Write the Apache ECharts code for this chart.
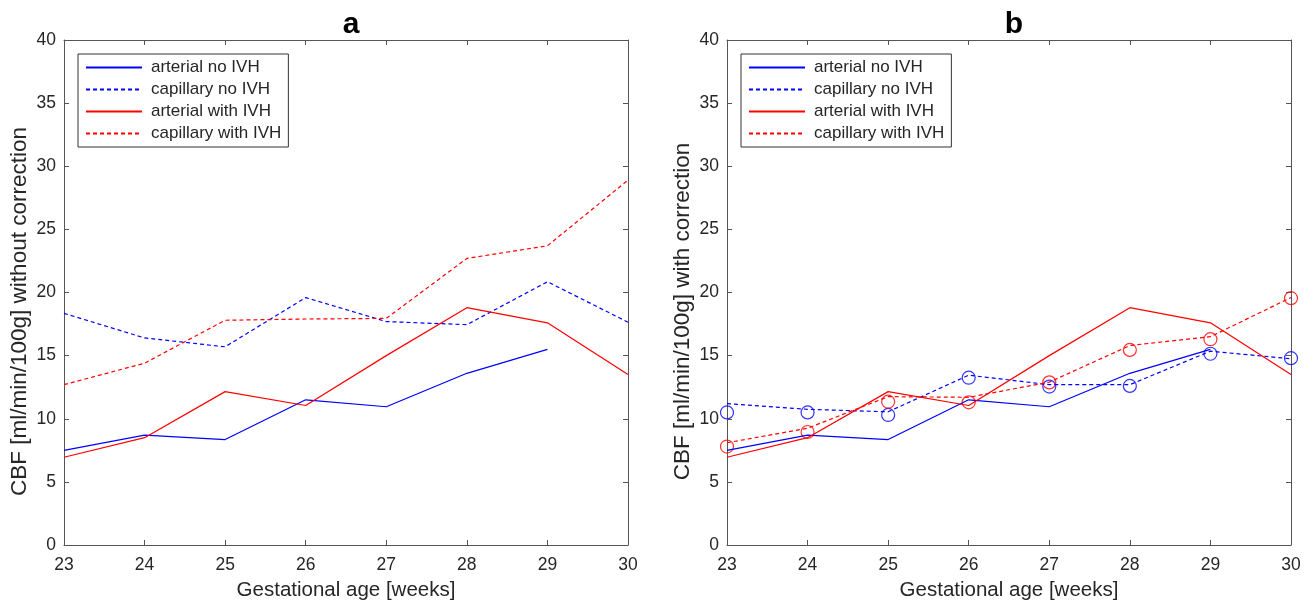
<!DOCTYPE html>
<html><head><meta charset="utf-8">
<script src="https://cdn.jsdelivr.net/npm/echarts@6/dist/echarts.min.js"></script>
<style>html,body{margin:0;padding:0;background:#fff}#c{width:1313px;height:606px}</style>
</head><body><div id="c"></div>
<script>
const weeks = [23, 24, 25, 26, 27, 28, 29, 30];
const yTicks = [0, 5, 10, 15, 20, 25, 30, 35, 40];
const seriesNames = ['arterial no IVH', 'capillary no IVH', 'arterial with IVH', 'capillary with IVH'];
// shared arterial values (both panels)
const arterialNoIVH   = [7.5, 8.7, 8.35, 11.5, 10.95, 13.6, 15.5, null];
const arterialWithIVH = [6.95, 8.5, 12.15, 11.05, 15.0, 18.8, 17.6, 13.5];
// panel a: capillary without correction
const capNoIVH_a   = [18.35, 16.4, 15.7, 19.6, 17.7, 17.45, 20.85, 17.65];
const capWithIVH_a = [12.7, 14.4, 17.8, 17.9, 17.95, 22.7, 23.7, 28.9];
// panel b: capillary with correction
const capNoIVH_b   = [11.2, 10.75, 10.55, 13.45, 12.7, 12.7, 15.35, 14.75];
const capWithIVH_b = [8.1, 9.25, 11.75, 11.7, 12.9, 15.8, 16.5, 19.6];
// panel b: circle markers
const circNoIVH_b   = [10.5, 10.5, 10.3, 13.25, 12.55, 12.6, 15.15, 14.8];
const circWithIVH_b = [7.8, 8.95, 11.35, 11.3, 12.88, 15.45, 16.3, 19.55];

const BLUE = '#0000ff', RED = '#ff0000';
const FONT = "'Liberation Sans', Arial, Helvetica, sans-serif";
const AX = '#555555';
const TXT = '#262626';
const pairs = arr => weeks.map((w, i) => [w, arr[i]]).filter(p => p[1] !== null);

function lineS(name, data, color, dashed, gi) {
  return {
    type: 'line', name, xAxisIndex: gi * 2, yAxisIndex: gi * 2, data: pairs(data),
    symbol: 'none', showSymbol: false, silent: true, animation: false,
    lineStyle: { color, width: 1.2, type: dashed ? [4, 3] : 'solid' },
    itemStyle: { color }
  };
}
function circS(name, data, color) {
  return {
    type: 'scatter', name, xAxisIndex: 2, yAxisIndex: 2, data: pairs(data),
    symbol: 'circle', symbolSize: 13, silent: true, animation: false,
    itemStyle: { color: 'rgba(0,0,0,0)', borderColor: color, borderWidth: 1.2 }
  };
}
const grids = [
  { left: 64, top: 40, width: 564, height: 507 },
  { left: 727, top: 40, width: 564, height: 507 }
];
const yNames = ['CBF [ml/min/100g] without correction', 'CBF [ml/min/100g] with correction'];
const xAxes = [], yAxes = [];
grids.forEach((g, gi) => {
  xAxes.push({
    type: 'value', gridIndex: gi, min: weeks[0], max: weeks[weeks.length - 1], interval: 1,
    name: 'Gestational age [weeks]', nameLocation: 'middle', nameGap: 35,
    nameTextStyle: { fontFamily: FONT, fontSize: 20.5, color: TXT },
    axisLine: { show: true, lineStyle: { color: AX, width: 1 } },
    axisTick: { show: true, inside: true, length: 5, lineStyle: { color: AX } },
    axisLabel: { fontFamily: FONT, fontSize: 17.5, color: TXT, margin: 11 },
    splitLine: { show: false }
  });
  xAxes.push({
    type: 'value', gridIndex: gi, position: 'top', min: weeks[0], max: weeks[weeks.length - 1], interval: 1,
    axisLine: { show: true, onZero: false, lineStyle: { color: AX, width: 1 } },
    axisTick: { show: true, inside: true, length: 5, lineStyle: { color: AX } },
    axisLabel: { show: false }, splitLine: { show: false }
  });
  yAxes.push({
    type: 'value', gridIndex: gi, min: yTicks[0], max: yTicks[yTicks.length - 1], interval: 5,
    name: yNames[gi], nameLocation: 'middle', nameGap: 33,
    nameTextStyle: { fontFamily: FONT, fontSize: 22.5, color: TXT, padding: [0, 38, 0, 0] },
    axisLine: { show: true, lineStyle: { color: AX, width: 1 } },
    axisTick: { show: true, inside: true, length: 5, lineStyle: { color: AX } },
    axisLabel: { fontFamily: FONT, fontSize: 17.5, color: TXT, margin: 8 },
    splitLine: { show: false }
  });
  yAxes.push({
    type: 'value', gridIndex: gi, position: 'right', min: yTicks[0], max: yTicks[yTicks.length - 1], interval: 5,
    axisLine: { show: true, onZero: false, lineStyle: { color: AX, width: 1 } },
    axisTick: { show: true, inside: true, length: 5, lineStyle: { color: AX } },
    axisLabel: { show: false }, splitLine: { show: false }
  });
});

const series = [
  lineS(seriesNames[0], arterialNoIVH, BLUE, false, 0),
  lineS(seriesNames[1], capNoIVH_a, BLUE, true, 0),
  lineS(seriesNames[2], arterialWithIVH, RED, false, 0),
  lineS(seriesNames[3], capWithIVH_a, RED, true, 0),
  lineS(seriesNames[0], arterialNoIVH, BLUE, false, 1),
  lineS(seriesNames[1], capNoIVH_b, BLUE, true, 1),
  lineS(seriesNames[2], arterialWithIVH, RED, false, 1),
  lineS(seriesNames[3], capWithIVH_b, RED, true, 1),
  circS('circ no IVH', circNoIVH_b, BLUE),
  circS('circ with IVH', circWithIVH_b, RED)
];

function legend(left) {
  return {
    data: seriesNames, orient: 'vertical', left, top: 54,
    itemWidth: 56, itemHeight: 10, itemGap: 5,
    padding: [5, 7, 5, 7], borderColor: '#333', borderWidth: 1,
    backgroundColor: '#fff', selectedMode: false,
    itemStyle: { opacity: 0 },
    textStyle: { fontFamily: FONT, fontSize: 17, lineHeight: 17, color: TXT, padding: [0, 0, 0, 4] }
  };
}

const chart = echarts.init(document.getElementById('c'), null, { renderer: 'canvas' });
chart.setOption({
  backgroundColor: '#fff',
  animation: false,
  title: [
    { text: 'a', left: 346, top: 5, textAlign: 'center', textStyle: { fontFamily: FONT, fontSize: 30, fontWeight: 'bold', color: '#000' } },
    { text: 'b', left: 1009, top: 5, textAlign: 'center', textStyle: { fontFamily: FONT, fontSize: 30, fontWeight: 'bold', color: '#000' } }
  ],
  grid: grids,
  legend: [legend(78), legend(741)],
  xAxis: xAxes,
  yAxis: yAxes,
  series
});
</script></body></html>
